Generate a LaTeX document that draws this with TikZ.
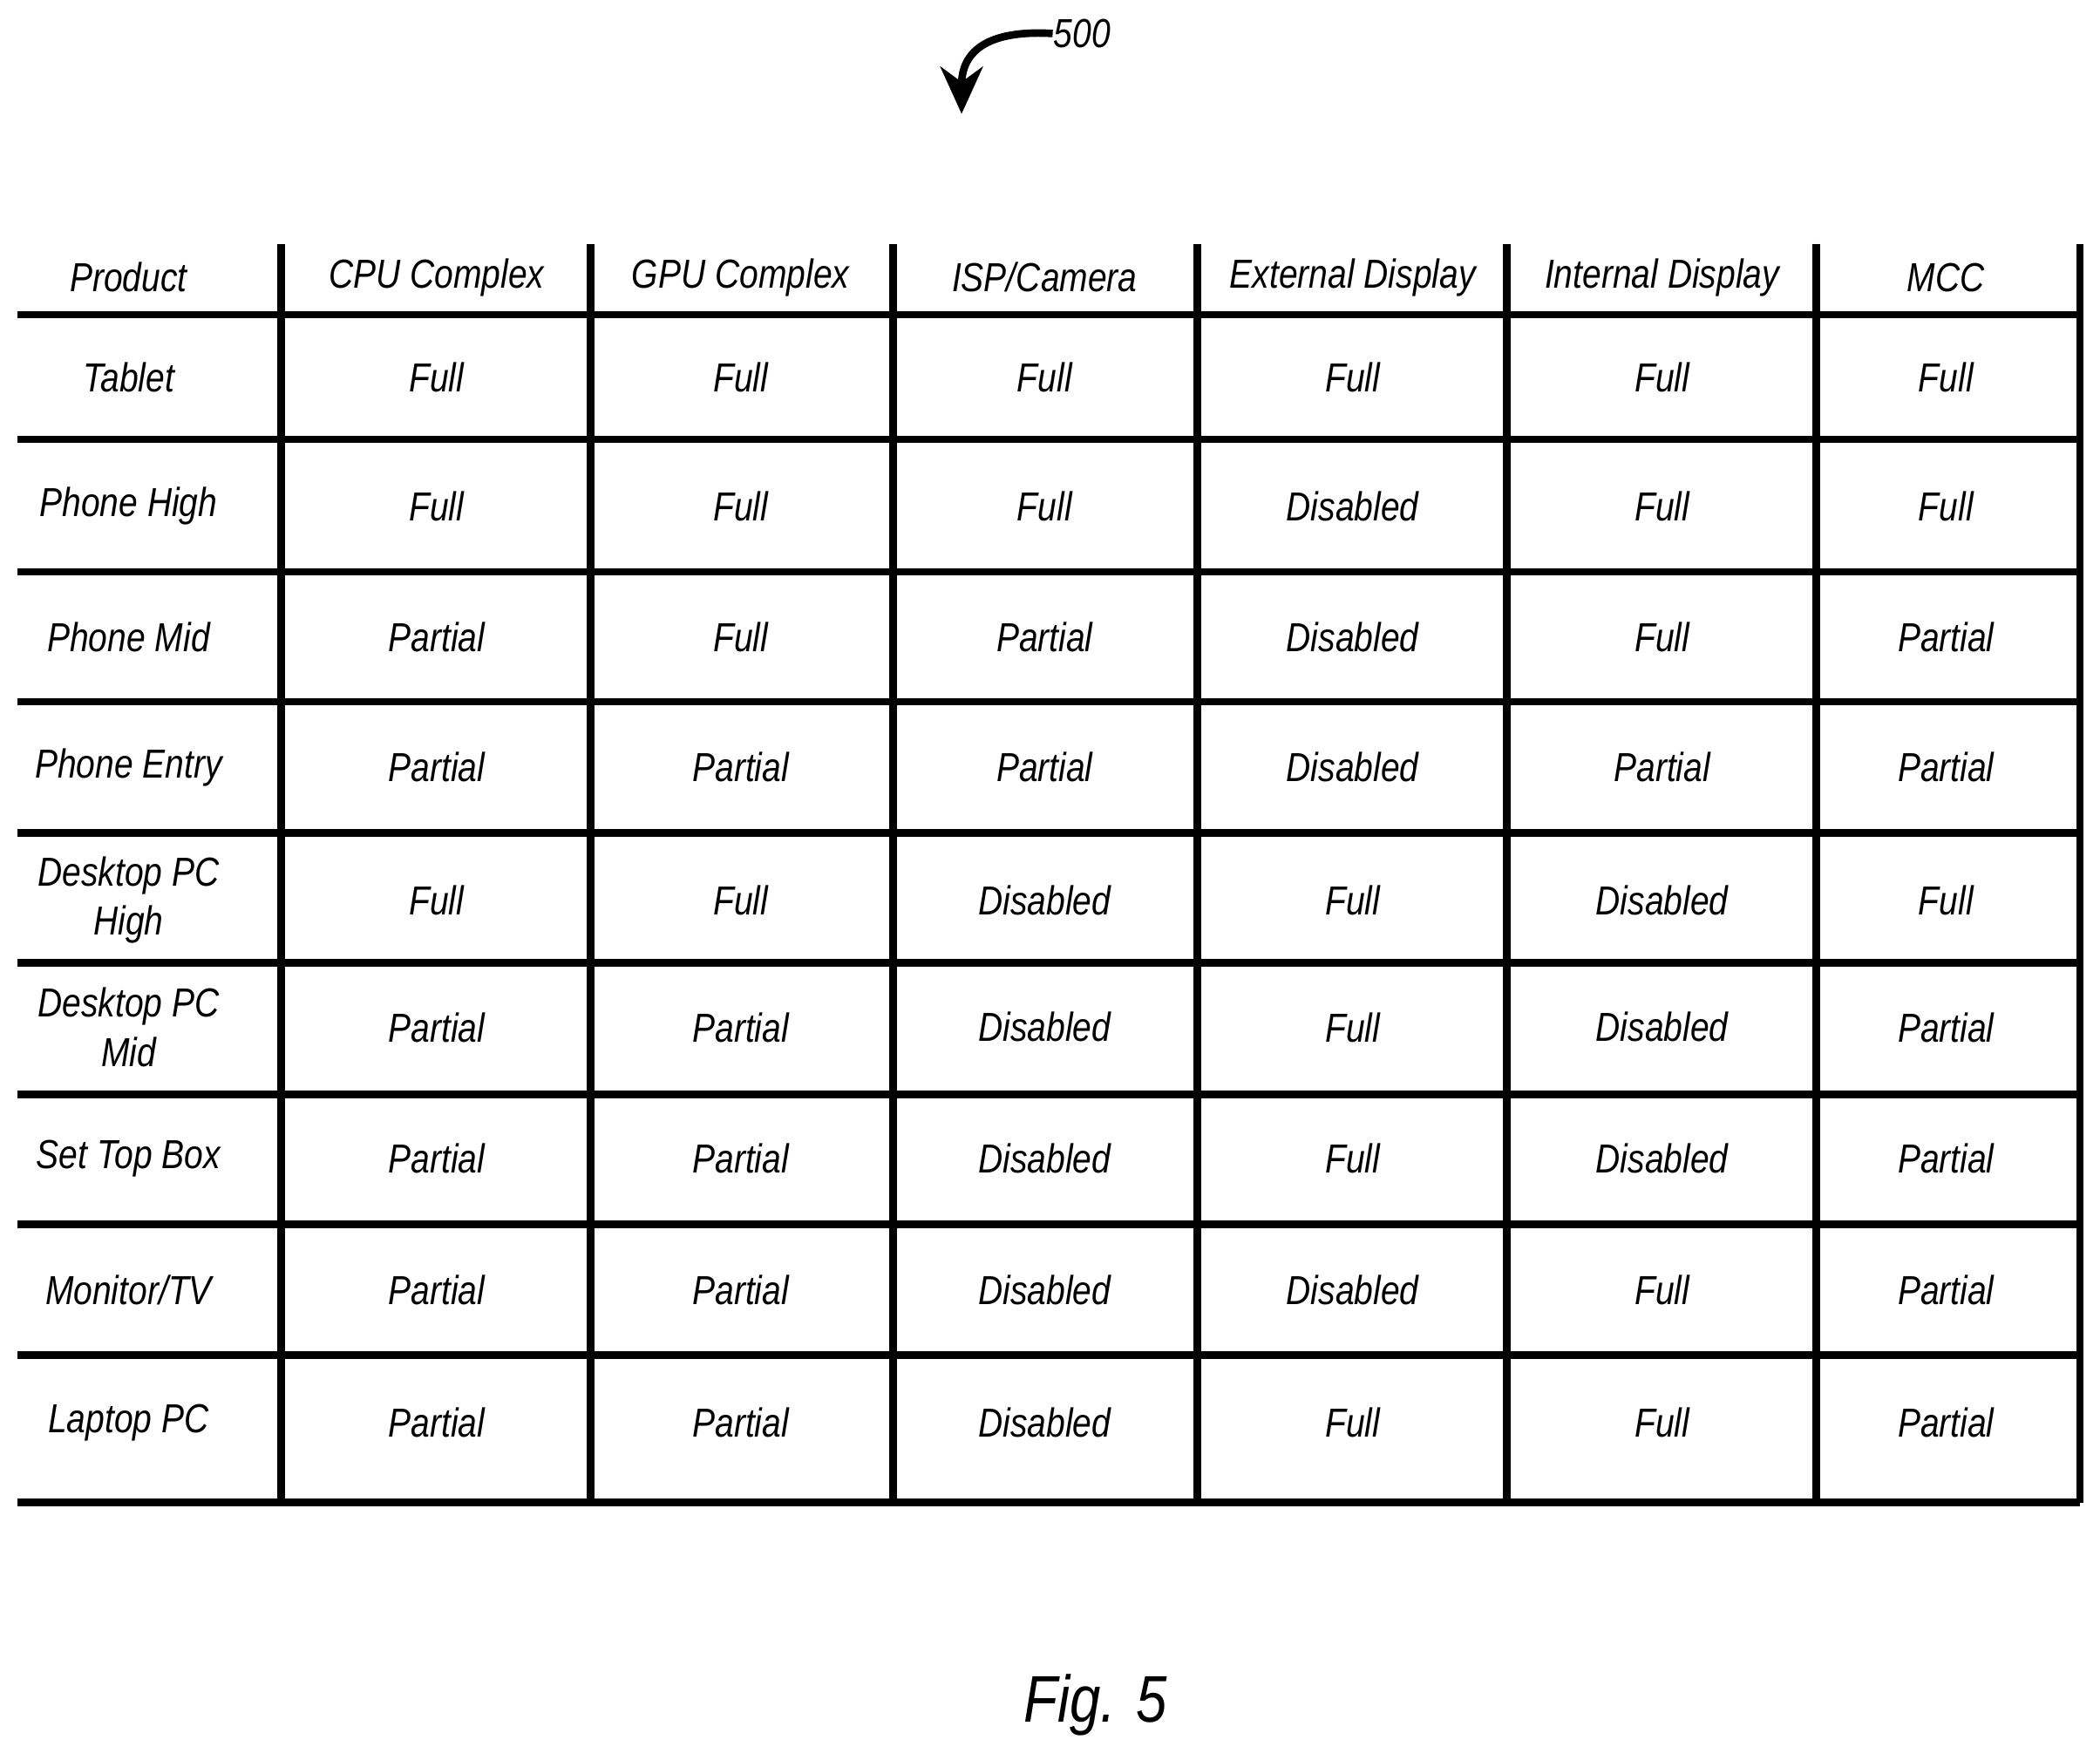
\documentclass[tikz,border=0pt]{standalone}
\usepackage{fontspec}
\usetikzlibrary{arrows.meta}
\setmainfont{Liberation Sans}[FakeStretch=0.84]
\begin{document}
\begin{tikzpicture}[x=0.01cm,y=-0.01cm,
  cell/.style={font=\fontsize{8.6pt}{10.5pt}\selectfont\itshape,align=center,inner sep=0},
  grid/.style={line width=1.6pt}]
\useasboundingbox (0,0) rectangle (1568,1314);
\foreach \y in {235,328,427,524,622,719,817,914,1012,1122} \draw[grid] (13,\y) -- (1553,\y);
\foreach \x in {210,441,667,894,1125,1356,1553} \draw[grid] (\x,182) -- (\x,1122);
\def\xs{{112,326,553,780,1010,1241,1453}}
\def\ys{{207,282,378,476,573,672,767,865,963,1062}}
\foreach \r [count=\i from 0] in {
 {Product,CPU Complex,GPU Complex,ISP/Camera,External Display,Internal Display,MCC},
 {Tablet,Full,Full,Full,Full,Full,Full},
 {Phone High,Full,Full,Full,Disabled,Full,Full},
 {Phone Mid,Partial,Full,Partial,Disabled,Full,Partial},
 {Phone Entry,Partial,Partial,Partial,Disabled,Partial,Partial},
 {Desktop PC\\High,Full,Full,Disabled,Full,Disabled,Full},
 {Desktop PC\\Mid,Partial,Partial,Disabled,Full,Disabled,Partial},
 {Set Top Box,Partial,Partial,Disabled,Full,Disabled,Partial},
 {Monitor/TV,Partial,Partial,Disabled,Disabled,Full,Partial},
 {Laptop PC,Partial,Partial,Disabled,Full,Full,Partial}}
 {\foreach \t [count=\j from 0] in \r {
   \pgfmathsetmacro\cx{\xs[\j]}\pgfmathsetmacro\cy{\ys[\i]}
   \pgfmathsetmacro\cx{\j==0 ? 96 : \cx}
   \node[cell] (c\i-\j) at (\cx,\cy) {\t};}}
\node[cell,anchor=west] (ref) at (786,25) {500};
\coordinate (tip) at (718,85);
\draw[line width=1.6pt,-{Stealth[length=10pt,width=9pt]}] (ref.west) .. controls (735,22) and (718,40) .. (tip);
\node[font=\fontsize{14pt}{16pt}\selectfont\itshape] (fig) at (818,1273) {Fig. 5};
\end{tikzpicture}
\end{document}
